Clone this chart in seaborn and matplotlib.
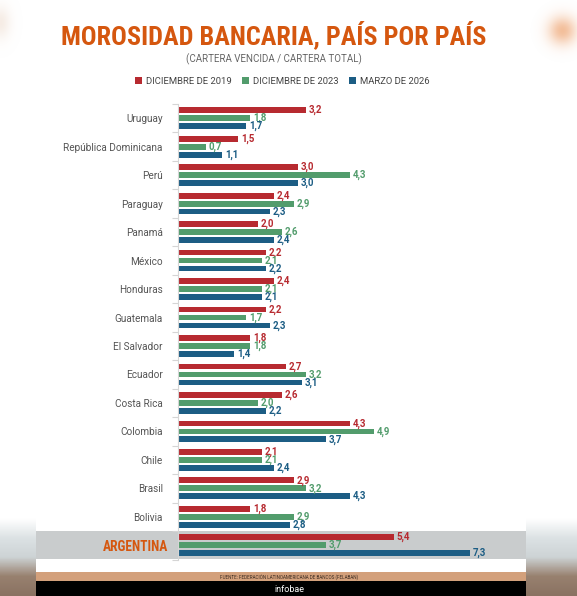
import os
import numpy as np
import pandas as pd
import matplotlib
matplotlib.use('Agg')
import matplotlib.pyplot as plt
from matplotlib import font_manager
from matplotlib.patches import Rectangle
from matplotlib.transforms import ScaledTranslation
import seaborn as sns

paises = ['Uruguay', 'República Dominicana', 'Perú', 'Paraguay', 'Panamá', 'México',
          'Honduras', 'Guatemala', 'El Salvador', 'Ecuador', 'Costa Rica', 'Colombia',
          'Chile', 'Brasil', 'Bolivia', 'ARGENTINA']
dic_2019 = [3.2, 1.5, 3.0, 2.4, 2.0, 2.2, 2.4, 2.2, 1.8, 2.7, 2.6, 4.3, 2.1, 2.9, 1.8, 5.4]
dic_2023 = [1.8, 0.7, 4.3, 2.9, 2.6, 2.1, 2.1, 1.7, 1.8, 3.2, 2.0, 4.9, 2.1, 3.2, 2.9, 3.7]
mar_2026 = [1.7, 1.1, 3.0, 2.3, 2.4, 2.2, 2.1, 2.3, 1.4, 3.1, 2.2, 3.7, 2.4, 4.3, 2.8, 7.3]
periodos = ['DICIEMBRE DE 2019', 'DICIEMBRE DE 2023', 'MARZO DE 2026']
colores = ['#B72A30', '#529C6C', '#1C5D84']

dados = pd.DataFrame({
    'pais': paises * 3,
    'valor': dic_2019 + dic_2023 + mar_2026,
    'periodo': [p for p in periodos for _ in paises],
})

# buscar una fuente condensada en negrita para el titulo
def fuente_angosta():
    archivos = [f.fname for f in font_manager.fontManager.ttflist]
    for clave in ['RobotoCondensed-Bold', 'LiberationSansNarrow-Bold', 'OpenSans_Condensed-Bold',
                  'OpenSansCondensed-Bold', 'DejaVuSansCondensed-Bold']:
        for a in archivos:
            if clave.lower() in os.path.basename(a).lower().replace(' ', ''):
                return font_manager.FontProperties(fname=a)
    for a in archivos:
        b = os.path.basename(a).lower()
        if ('condensed' in b or 'narrow' in b) and 'bold' in b and 'italic' not in b and 'oblique' not in b:
            return font_manager.FontProperties(fname=a)
    return font_manager.FontProperties(family='Roboto', weight='bold')

fp_titulo = fuente_angosta()
plt.rcParams['font.family'] = ['Roboto', 'DejaVu Sans']

W, H = 577, 596
fig = plt.figure(figsize=(W / 100, H / 100), dpi=100)

# fondo decorativo en coordenadas de pixel
bg = fig.add_axes([0, 0, 1, 1], zorder=-5)
bg.set_xlim(0, W)
bg.set_ylim(H, 0)
bg.axis('off')
grad = np.linspace(0, 1, 80)[:, None]
cmap_bg = matplotlib.colors.LinearSegmentedColormap.from_list(
    'bg', ['#FFFFFF', '#DCE2E4', '#CDD3D5', '#98816F', '#8A7262'])
bg.imshow(grad, extent=[0, 36, H, 518], cmap=cmap_bg, aspect='auto', zorder=0)
bg.imshow(grad, extent=[526, W, H, 518], cmap=cmap_bg, aspect='auto', zorder=0)

# manchas difusas arriba
yy, xx = np.mgrid[0:70, 0:60]
mancha = np.zeros((70, 60, 4))
mancha[..., :3] = matplotlib.colors.to_rgb('#EFA979')
mancha[..., 3] = 0.75 * np.exp(-(((xx - 45) / 14.0) ** 2 + ((yy - 30) / 14.0) ** 2))
bg.imshow(mancha, extent=[517, W, 70, 0], aspect='auto', zorder=1)
mancha2 = mancha.copy()
mancha2[..., :3] = matplotlib.colors.to_rgb('#F0E0D4')
mancha2[..., 3] = 0.6 * np.exp(-(((xx - 10) / 10.0) ** 2 + ((yy - 22) / 16.0) ** 2))
bg.imshow(mancha2, extent=[-10, 50, 70, 0], aspect='auto', zorder=1)

bg.add_patch(Rectangle((36, 531), 490, 28, color='#C9CCCD', lw=0))
bg.add_patch(Rectangle((36, 572), 490, 9, color='#D3A07B', lw=0))
bg.add_patch(Rectangle((36, 581), 490, 15, color='#000000', lw=0))

titulo = bg.text(274, 34.5, 'MOROSIDAD BANCARIA, PAÍS POR PAÍS', ha='center', va='center',
                 color='#D5570F', fontsize=21, fontproperties=fp_titulo)
titulo.set_fontsize(21)
bg.text(274, 59, '(CARTERA VENCIDA / CARTERA TOTAL)', ha='center', va='center',
        color='#666666', fontsize=7)
bg.text(289, 576.5, 'FUENTE: FEDERACIÓN LATINOAMERICANA DE BANCOS (FELABAN)', ha='center',
        va='center', color='#3A2A20', fontsize=3.3)
bg.text(289, 589, 'infobae', ha='center', va='center', color='white', fontsize=6.5)

# grafico principal
ax = fig.add_axes([178 / W, (H - 559.5) / H, 348 / W, 455.5 / H])
sns.barplot(data=dados, y='pais', x='valor', hue='periodo', hue_order=periodos,
            palette=colores, orient='h', width=0.84, gap=0.28, saturation=1, ax=ax)
ax.patch.set_alpha(0)
ax.set_xlim(0, 8.7)
ax.set_ylim(15.5, -0.5)

for cont, color in zip(ax.containers, colores):
    etiquetas = [f'{b.get_width():.1f}'.replace('.', ',') for b in cont]
    ax.bar_label(cont, labels=etiquetas, padding=2, color=color, fontsize=7, fontweight='bold')

sns.move_legend(ax, 'center', bbox_to_anchor=(282 / W, 1 - 81.5 / H), bbox_transform=fig.transFigure,
                ncol=3, frameon=False, title=None, fontsize=6.8, handlelength=0.75, handleheight=0.75,
                handletextpad=0.4, columnspacing=1.1)
for t in ax.get_legend().get_texts():
    t.set_color('#444444')

ax.set_xlabel('')
ax.set_ylabel('')
ax.set_xticks([])
for lado in ['top', 'right', 'bottom']:
    ax.spines[lado].set_visible(False)
ax.spines['left'].set_color('#D5D5D5')
ax.spines['left'].set_linewidth(0.8)
ax.set_yticks(np.arange(-0.5, 16, 1), minor=True)
ax.tick_params(axis='y', which='major', length=0, pad=11, labelsize=7.2, labelcolor='#555555')
ax.tick_params(axis='y', which='minor', length=4, color='#D5D5D5', width=0.8)
arg = ax.get_yticklabels()[-1]
arg.set_fontproperties(fp_titulo)
arg.set_color('#D5570F')
arg.set_fontsize(10.5)
arg.set_transform(arg.get_transform() + ScaledTranslation(6 / 100, 0, fig.dpi_scale_trans))

# ajustar tamaños para que los anchos coincidan con la referencia
fig.canvas.draw()
r = fig.canvas.get_renderer()
ancho = titulo.get_window_extent(r).width
titulo.set_fontsize(min(21 * 424 / ancho, 24))
ancho = arg.get_window_extent(r).width
arg.set_fontsize(min(10.5 * 66 / ancho, 12.5))

fig.savefig('out.png', dpi=100)
